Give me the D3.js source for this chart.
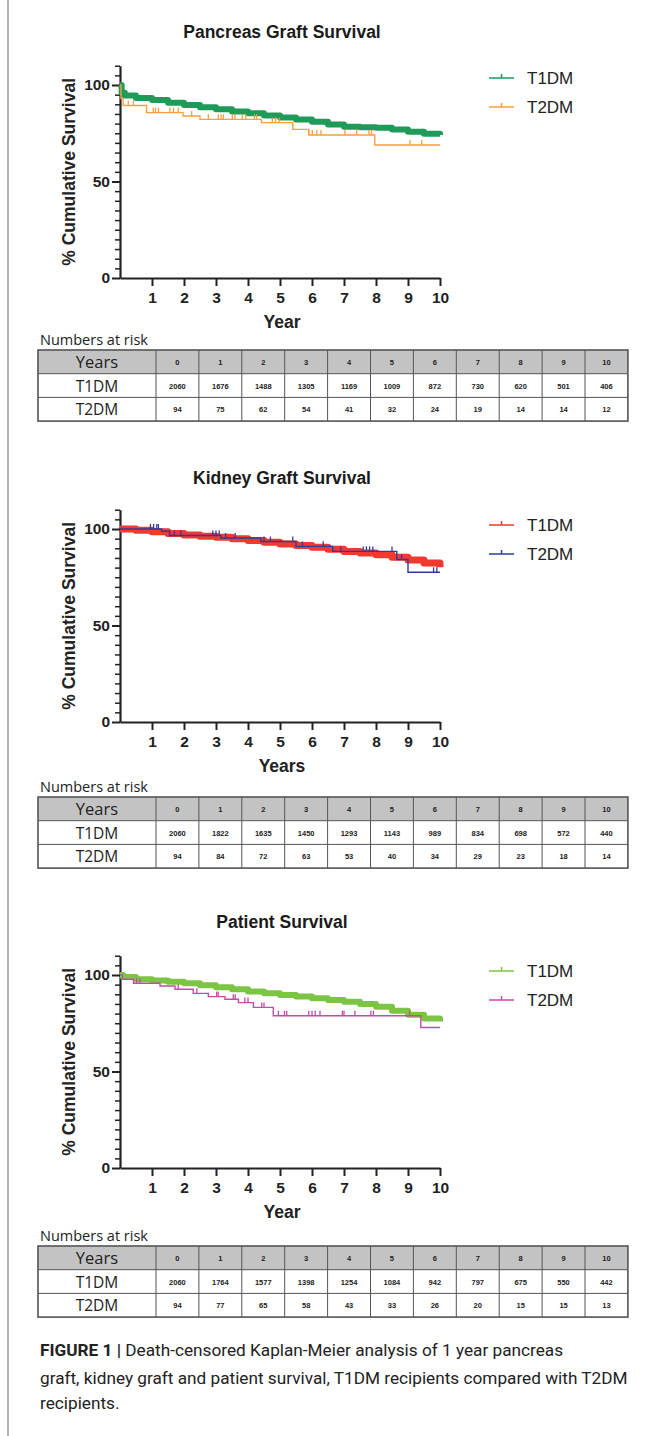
<!DOCTYPE html>
<html><head><meta charset="utf-8">
<script src="https://cdn.jsdelivr.net/npm/d3@7"></script>
<style>body{margin:0;background:#fff;} svg{display:block}</style>
</head><body><svg id="c" width="650" height="1436"></svg>
<script>
// ---------- DATA ----------
const yearTicks = [1,2,3,4,5,6,7,8,9,10];
const riskYears = [0,1,2,3,4,5,6,7,8,9,10];
const seriesNames = ["T1DM","T2DM"];

// Pancreas graft survival
const pancT1Times  = [0,0.05,0.15,0.5,1,1.5,2,2.5,3,3.5,4,4.5,5,5.5,6,6.5,7,7.5,8,8.5,9,9.5,10];
const pancT1Values = [100,96,94.5,93.2,92.2,90.8,89.6,88.5,87.4,86.3,85.3,84.2,83.1,82.1,81,79.5,78.4,78.1,77.8,76.9,75.8,74.8,74.1];
const pancT2Times  = [0,0.03,0.1,0.83,1.97,2.5,4.42,5.4,5.9,7.96,10];
const pancT2Values = [100,93,89.4,85.7,83.9,82.2,80.5,77,74.1,68.9,68.9];
const pancT2Censor = [0.26,0.42,1.04,1.11,1.2,1.56,1.67,1.82,2.24,2.76,3.07,3.16,3.23,3.51,3.59,3.82,3.93,4.2,4.27,4.76,4.86,4.97,5.9,6.01,6.15,6.28,7.03,7.4,7.78,7.86,9.06,9.43];
const pancRiskT1 = [2060,1676,1488,1305,1169,1009,872,730,620,501,406];
const pancRiskT2 = [94,75,62,54,41,32,24,19,14,14,12];

// Kidney graft survival
const kidT1Times  = [0,0.5,1,1.5,2,2.5,3,3.5,4,4.5,5,5.5,6,6.5,7,7.5,8,8.5,9,9.5,10];
const kidT1Values = [100,99.3,98.6,97.7,96.9,96.3,95.7,94.9,94.0,93.1,92.2,91.4,90.5,89.5,88.4,87.6,86.6,85.4,84.0,82.4,80.2];
const kidT2Times  = [0,1.3,1.55,3.15,4.4,5.5,6.65,8.65,9.0,10];
const kidT2Values = [100,98.8,96.6,95.3,93.5,91.0,88.4,84.2,77.6,77.6];
const kidT2Censor = [0.95,1.05,1.15,1.2,1.7,1.9,2.9,3.0,3.1,3.3,3.6,4.5,4.7,5.4,5.7,6.35,6.9,7.6,7.7,7.8,7.9,8.5,8.8,9.8,9.9];
const kidRiskT1 = [2060,1822,1635,1450,1293,1143,989,834,698,572,440];
const kidRiskT2 = [94,84,72,63,53,40,34,29,23,18,14];

// Patient survival
const patT1Times  = [0,0.1,0.5,1,1.5,2,2.5,3,3.5,4,4.5,5,5.5,6,6.5,7,7.5,8,8.5,9,9.5,10];
const patT1Values = [100,99,97.8,97.2,96.5,95.7,94.7,93.7,92.6,91.5,90.5,89.6,88.8,87.9,87.1,86.2,85,83.6,81.5,79.4,77.5,75.9];
const patT2Times  = [0,0.08,0.42,1.25,1.72,2.29,2.76,3.28,3.7,4.17,4.79,9.4,10];
const patT2Values = [100,97.8,95.7,94.3,92.6,90.5,88.8,87.4,85.7,83.2,78.9,72.8,72.8];
const patT2Censor = [0.52,0.62,1.82,2.4,3.02,3.07,3.54,3.6,3.9,4.0,4.43,4.5,4.95,5.14,5.21,5.9,6.0,6.1,6.25,6.95,7.0,7.34,7.84,7.92,9.05];
const patRiskT1 = [2060,1764,1577,1398,1254,1084,942,797,675,550,442];
const patRiskT2 = [94,77,65,58,43,33,26,20,15,15,13];

// ---------- DRAWING ----------
const svg = d3.select('#c');
const FONT = "'Liberation Sans', Arial, sans-serif";
const TFONT = "'Open Sans', 'Liberation Sans', sans-serif";
const x = d3.scaleLinear().domain([0,10]).range([120,440]);

svg.append('line').attr('x1',8).attr('x2',8).attr('y1',0).attr('y2',1436)
   .attr('stroke','#9a9a9a').attr('stroke-width',1.5);

function stepValue(times, values, t){
  let v = values[0];
  for (let i=0;i<times.length;i++){ if (times[i] <= t) v = values[i]; }
  return v;
}

function panel(p){
  const g = svg.append('g');
  const y = d3.scaleLinear().domain([0,110]).range([p.y0, p.y0 - 110*1.93]);

  g.append('text').attr('x',282).attr('y',p.titleY).attr('text-anchor','middle')
    .attr('font-family',FONT).attr('font-weight','bold').attr('font-size',17.5)
    .attr('fill','#1a1a1a').text(p.title);

  const minor = d3.range(5,111,5).filter(v => v%50 !== 0);
  const ym = g.append('g').attr('transform','translate(120,0)')
    .call(d3.axisLeft(y).tickValues(minor).tickSize(5).tickFormat(''));
  ym.select('.domain').remove();
  ym.selectAll('line').attr('stroke','#222').attr('stroke-width',1.5);

  const ya = g.append('g').attr('transform','translate(120,0)')
    .call(d3.axisLeft(y).tickValues([0,50,100]).tickSize(8).tickSizeOuter(0).tickPadding(2));
  ya.select('.domain').attr('stroke','#222').attr('stroke-width',2.2);
  ya.selectAll('line').attr('stroke','#222').attr('stroke-width',2);
  ya.selectAll('text').attr('font-family',FONT).attr('font-weight','bold')
    .attr('font-size',15.5).attr('fill','#222');

  const xa = g.append('g').attr('transform',`translate(0,${p.y0})`)
    .call(d3.axisBottom(x).tickValues(yearTicks).tickSize(8).tickSizeOuter(0).tickPadding(6));
  xa.select('.domain').attr('stroke','#222').attr('stroke-width',2.2);
  xa.selectAll('line').attr('stroke','#222').attr('stroke-width',2);
  xa.selectAll('text').attr('font-family',FONT).attr('font-weight','bold')
    .attr('font-size',15.5).attr('fill','#222');

  g.append('text').attr('x',282).attr('y',p.y0+50).attr('text-anchor','middle')
    .attr('font-family',FONT).attr('font-weight','bold').attr('font-size',17.5)
    .attr('fill','#222').text(p.xTitle);

  g.append('text').attr('transform',`translate(75,${p.y0 - 55*1.93}) rotate(-90)`)
    .attr('text-anchor','middle').attr('font-family',FONT).attr('font-weight','bold')
    .attr('font-size',17.5).attr('fill','#222').text('% Cumulative Survival');

  const line = d3.line().curve(d3.curveStepAfter).x(d=>x(d[0])).y(d=>y(d[1]));

  const d1 = p.t1Times.map((t,i)=>[t,p.t1Values[i]]);
  g.append('path').datum(d1).attr('d',line).attr('fill','none')
    .attr('stroke',p.c1).attr('stroke-width',p.w1).attr('stroke-linejoin','round');

  const d2 = p.t2Times.map((t,i)=>[t,p.t2Values[i]]);
  g.append('path').datum(d2).attr('d',line).attr('fill','none')
    .attr('stroke',p.c2).attr('stroke-width',1.4);
  g.selectAll(null).data(p.t2Censor).enter().append('line')
    .attr('x1',d=>x(d)).attr('x2',d=>x(d))
    .attr('y1',d=>y(stepValue(p.t2Times,p.t2Values,d)))
    .attr('y2',d=>y(stepValue(p.t2Times,p.t2Values,d))-5)
    .attr('stroke',p.c2).attr('stroke-width',1.3);

  [p.c1,p.c2].forEach((c,i)=>{
    const ly = p.legY + i*29;
    g.append('line').attr('x1',489).attr('x2',514).attr('y1',ly).attr('y2',ly)
      .attr('stroke',c).attr('stroke-width',1.5);
    g.append('line').attr('x1',501.5).attr('x2',501.5).attr('y1',ly-4).attr('y2',ly)
      .attr('stroke',c).attr('stroke-width',1.5);
    g.append('text').attr('x',527).attr('y',ly+6).attr('font-family',FONT)
      .attr('font-size',17).attr('fill','#222').text(seriesNames[i]);
  });

  const tTop = p.tableTop, rowH = 23.7, left = 38, firstW = 118, colW = 42.9;
  g.append('text').attr('x',40).attr('y',tTop-5).attr('font-family',TFONT)
    .attr('font-size',14.5).attr('fill','#222').text('Numbers at risk');
  const tw = firstW + colW*riskYears.length;
  g.append('rect').attr('x',left).attr('y',tTop).attr('width',tw).attr('height',rowH)
    .attr('fill','#c3c3c3');
  const rows = [{label:'Years', vals:riskYears}, {label:seriesNames[0], vals:p.r1}, {label:seriesNames[1], vals:p.r2}];
  rows.forEach((r,ri)=>{
    const cy = tTop + rowH*ri + rowH/2;
    g.append('text').attr('x',left+firstW/2).attr('y',cy+6).attr('text-anchor','middle')
      .attr('font-family',TFONT).attr('font-size',ri===0?16.5:15.5).attr('fill','#222').text(r.label);
    r.vals.forEach((v,ci)=>{
      g.append('text').attr('x',left+firstW+colW*ci+colW/2).attr('y',cy+3)
        .attr('text-anchor','middle').attr('font-family',FONT).attr('font-weight','bold')
        .attr('font-size',7.5).attr('fill','#222').text(v);
    });
  });
  for (let ri=1; ri<3; ri++){
    g.append('line').attr('x1',left).attr('x2',left+tw).attr('y1',tTop+rowH*ri).attr('y2',tTop+rowH*ri)
      .attr('stroke','#555').attr('stroke-width',1);
  }
  for (let ci=0; ci<riskYears.length; ci++){
    const xx = left+firstW+colW*ci;
    g.append('line').attr('x1',xx).attr('x2',xx).attr('y1',tTop).attr('y2',tTop+rowH*3)
      .attr('stroke','#555').attr('stroke-width',1);
  }
  g.append('rect').attr('x',left).attr('y',tTop).attr('width',tw).attr('height',rowH*3)
    .attr('fill','none').attr('stroke','#555').attr('stroke-width',1.6);
}

panel({title:'Pancreas Graft Survival', xTitle:'Year', titleY:38, y0:278, legY:78, tableTop:350,
  t1Times:pancT1Times, t1Values:pancT1Values, t2Times:pancT2Times, t2Values:pancT2Values, t2Censor:pancT2Censor,
  c1:'#1f9a58', c2:'#f7a03c', w1:6, r1:pancRiskT1, r2:pancRiskT2});
panel({title:'Kidney Graft Survival', xTitle:'Years', titleY:484, y0:722, legY:525, tableTop:797,
  t1Times:kidT1Times, t1Values:kidT1Values, t2Times:kidT2Times, t2Values:kidT2Values, t2Censor:kidT2Censor,
  c1:'#f0392f', c2:'#2f3c9c', w1:7, r1:kidRiskT1, r2:kidRiskT2});
panel({title:'Patient Survival', xTitle:'Year', titleY:928, y0:1168, legY:971, tableTop:1246,
  t1Times:patT1Times, t1Values:patT1Values, t2Times:patT2Times, t2Values:patT2Values, t2Censor:patT2Censor,
  c1:'#7cc544', c2:'#c84aa8', w1:6, r1:patRiskT1, r2:patRiskT2});

// caption
const cap = svg.append('g').attr('font-family',"Roboto, 'Liberation Sans', sans-serif").attr('fill','#222');
const capLines = [
  'graft, kidney graft and patient survival, T1DM recipients compared with T2DM',
  'recipients.'
];
const l1 = cap.append('text').attr('x',40).attr('y',1356).attr('font-size',15.5);
l1.append('tspan').attr('font-weight','bold').text('FIGURE 1 | ');
l1.append('tspan').text('Death-censored Kaplan-Meier analysis of 1 year pancreas');
const l2 = cap.append('text').attr('x',40).attr('y',1384).attr('font-size',15.5).text(capLines[0]);
const l3 = cap.append('text').attr('x',40).attr('y',1409).attr('font-size',15.5).text(capLines[1]);
const len = l2.node().getComputedTextLength();
const fs = 15.5 * 588 / len;
[l1,l2,l3].forEach(t=>t.attr('font-size',fs));
</script></body></html>
